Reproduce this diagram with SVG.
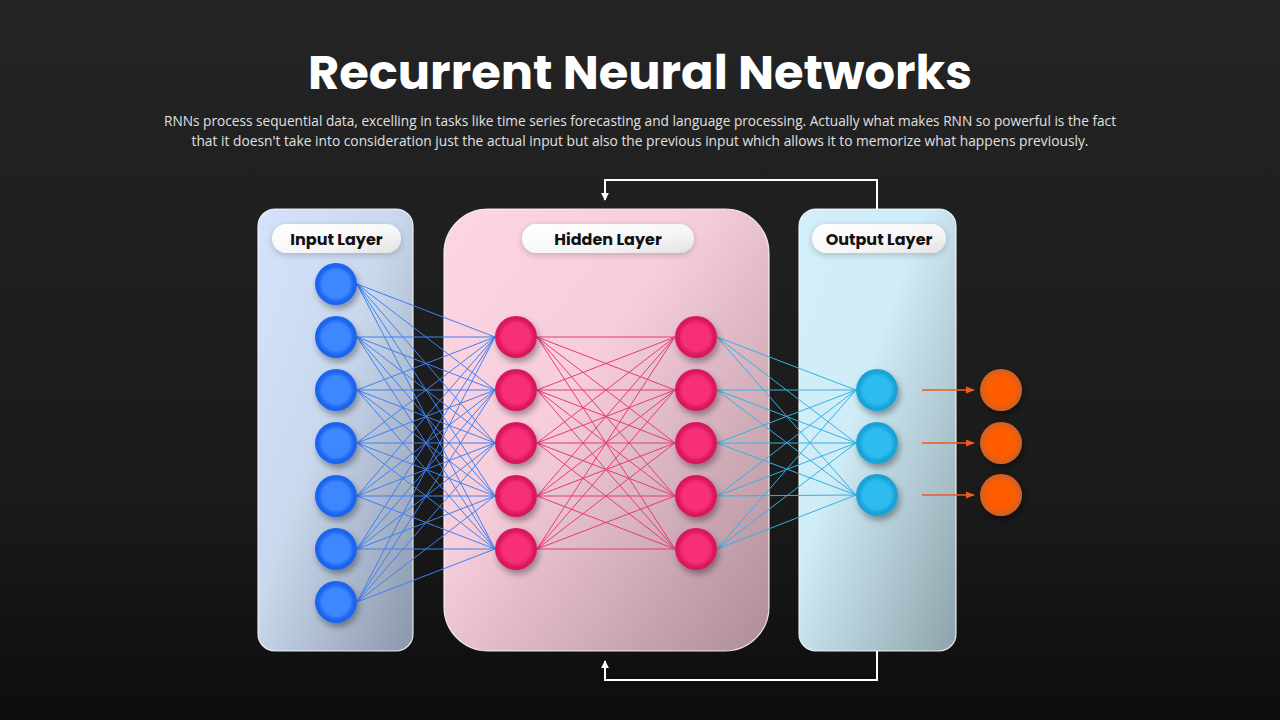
<svg xmlns="http://www.w3.org/2000/svg" width="1280" height="720" viewBox="0 0 1280 720">
<defs>
<linearGradient id="bg" x1="0" y1="0" x2="0" y2="1"><stop offset="0" stop-color="#242424"/><stop offset="0.7" stop-color="#1a1a1a"/><stop offset="1" stop-color="#0d0d0d"/></linearGradient>
<linearGradient id="gIn" x1="0" y1="0" x2="1" y2="1"><stop offset="0" stop-color="#d4e3fc"/><stop offset="0.45" stop-color="#cad8ee"/><stop offset="1" stop-color="#8a96aa"/></linearGradient>
<linearGradient id="gHid" x1="0" y1="0" x2="1" y2="1"><stop offset="0" stop-color="#fdd5e3"/><stop offset="0.4" stop-color="#f6cddb"/><stop offset="1" stop-color="#ad8c98"/></linearGradient>
<linearGradient id="gOut" x1="0" y1="0" x2="1" y2="1"><stop offset="0" stop-color="#d2eef8"/><stop offset="0.4" stop-color="#d0ecf6"/><stop offset="1" stop-color="#8ea3ab"/></linearGradient>
<linearGradient id="pill" x1="0" y1="0" x2="1" y2="1"><stop offset="0" stop-color="#ffffff"/><stop offset="0.6" stop-color="#f6f6f6"/><stop offset="1" stop-color="#e2e2e2"/></linearGradient>
<filter id="sh" x="-50%" y="-50%" width="200%" height="200%"><feDropShadow dx="2" dy="4" stdDeviation="3" flood-color="#000" flood-opacity="0.35"/></filter>
<filter id="psh" x="-20%" y="-50%" width="140%" height="200%"><feDropShadow dx="0" dy="2" stdDeviation="3" flood-color="#000" flood-opacity="0.2"/></filter>
<filter id="soft" x="-20%" y="-20%" width="140%" height="140%"><feGaussianBlur stdDeviation="1.5"/></filter>
<marker id="ah" viewBox="0 0 10 10" refX="9" refY="5" markerWidth="4" markerHeight="4" orient="auto"><path d="M0,0 L10,5 L0,10 z" fill="#ffffff"/></marker>
<marker id="ao" viewBox="0 0 10 10" refX="9" refY="5" markerWidth="6" markerHeight="6" orient="auto"><path d="M0,1 L10,5 L0,9 z" fill="#f05a1a"/></marker>
</defs>
<style>
.panel{stroke:#ffffff;stroke-opacity:0.85;stroke-width:1.2}
.lbl{font-family:"Poppins","Inter","Liberation Sans",sans-serif;font-weight:700;font-size:16px;fill:#111;text-anchor:middle}
.sub{font-family:"Open Sans","Lato","Liberation Sans",sans-serif;font-size:14px;fill:#e0e0e0;text-anchor:middle}
.lb{stroke:#3f80f0;stroke-width:1}
.lp{stroke:#e8387a;stroke-width:1}
.lc{stroke:#2eb4e4;stroke-width:1}
.loop{fill:none;stroke:#ffffff;stroke-width:2}
.oa{stroke:#f05a1a;stroke-width:1.5}
</style>
<rect width="1280" height="720" fill="url(#bg)"/>
<text x="640" y="89" font-family="Poppins, Inter, 'Liberation Sans', sans-serif" font-weight="700" font-size="48" fill="#ffffff" text-anchor="middle" textLength="664" lengthAdjust="spacingAndGlyphs">Recurrent Neural Networks</text>
<text class="sub" x="640" y="126" textLength="952" lengthAdjust="spacingAndGlyphs">RNNs process sequential data, excelling in tasks like time series forecasting and language processing. Actually what makes RNN so powerful is the fact</text>
<text class="sub" x="640" y="146" textLength="897" lengthAdjust="spacingAndGlyphs">that it doesn't take into consideration just the actual input but also the previous input which allows it to memorize what happens previously.</text>

<g id="panel-input"><rect class="panel" x="258" y="209" width="155" height="442" rx="17" fill="url(#gIn)"/><rect x="272" y="224" width="129" height="29" rx="14.5" fill="url(#pill)" filter="url(#psh)"/><text class="lbl" x="336.5" y="244.5">Input Layer</text></g>
<g id="panel-hidden"><rect class="panel" x="444" y="209" width="325" height="442" rx="44" fill="url(#gHid)"/><rect x="522" y="224" width="172" height="29" rx="14.5" fill="url(#pill)" filter="url(#psh)"/><text class="lbl" x="608" y="244.5">Hidden Layer</text></g>
<g id="panel-output"><rect class="panel" x="799" y="209" width="157" height="442" rx="17" fill="url(#gOut)"/><rect x="812" y="224" width="134" height="29" rx="14.5" fill="url(#pill)" filter="url(#psh)"/><text class="lbl" x="879" y="244.5">Output Layer</text></g>

<g id="connectors">
<g class="lb">
<line x1="357" y1="284" x2="495" y2="337"/><line x1="357" y1="284" x2="495" y2="390"/><line x1="357" y1="284" x2="495" y2="443"/><line x1="357" y1="284" x2="495" y2="496"/><line x1="357" y1="284" x2="495" y2="549"/>
<line x1="357" y1="337" x2="495" y2="337"/><line x1="357" y1="337" x2="495" y2="390"/><line x1="357" y1="337" x2="495" y2="443"/><line x1="357" y1="337" x2="495" y2="496"/><line x1="357" y1="337" x2="495" y2="549"/>
<line x1="357" y1="390" x2="495" y2="337"/><line x1="357" y1="390" x2="495" y2="390"/><line x1="357" y1="390" x2="495" y2="443"/><line x1="357" y1="390" x2="495" y2="496"/><line x1="357" y1="390" x2="495" y2="549"/>
<line x1="357" y1="443" x2="495" y2="337"/><line x1="357" y1="443" x2="495" y2="390"/><line x1="357" y1="443" x2="495" y2="443"/><line x1="357" y1="443" x2="495" y2="496"/><line x1="357" y1="443" x2="495" y2="549"/>
<line x1="357" y1="496" x2="495" y2="337"/><line x1="357" y1="496" x2="495" y2="390"/><line x1="357" y1="496" x2="495" y2="443"/><line x1="357" y1="496" x2="495" y2="496"/><line x1="357" y1="496" x2="495" y2="549"/>
<line x1="357" y1="549" x2="495" y2="337"/><line x1="357" y1="549" x2="495" y2="390"/><line x1="357" y1="549" x2="495" y2="443"/><line x1="357" y1="549" x2="495" y2="496"/><line x1="357" y1="549" x2="495" y2="549"/>
<line x1="357" y1="602" x2="495" y2="337"/><line x1="357" y1="602" x2="495" y2="390"/><line x1="357" y1="602" x2="495" y2="443"/><line x1="357" y1="602" x2="495" y2="496"/><line x1="357" y1="602" x2="495" y2="549"/>
</g>
<g class="lp">
<line x1="537" y1="337" x2="675" y2="337"/><line x1="537" y1="337" x2="675" y2="390"/><line x1="537" y1="337" x2="675" y2="443"/><line x1="537" y1="337" x2="675" y2="496"/><line x1="537" y1="337" x2="675" y2="549"/>
<line x1="537" y1="390" x2="675" y2="337"/><line x1="537" y1="390" x2="675" y2="390"/><line x1="537" y1="390" x2="675" y2="443"/><line x1="537" y1="390" x2="675" y2="496"/><line x1="537" y1="390" x2="675" y2="549"/>
<line x1="537" y1="443" x2="675" y2="337"/><line x1="537" y1="443" x2="675" y2="390"/><line x1="537" y1="443" x2="675" y2="443"/><line x1="537" y1="443" x2="675" y2="496"/><line x1="537" y1="443" x2="675" y2="549"/>
<line x1="537" y1="496" x2="675" y2="337"/><line x1="537" y1="496" x2="675" y2="390"/><line x1="537" y1="496" x2="675" y2="443"/><line x1="537" y1="496" x2="675" y2="496"/><line x1="537" y1="496" x2="675" y2="549"/>
<line x1="537" y1="549" x2="675" y2="337"/><line x1="537" y1="549" x2="675" y2="390"/><line x1="537" y1="549" x2="675" y2="443"/><line x1="537" y1="549" x2="675" y2="496"/><line x1="537" y1="549" x2="675" y2="549"/>
</g>
<g class="lc">
<line x1="717" y1="337" x2="856" y2="390"/><line x1="717" y1="337" x2="856" y2="443"/><line x1="717" y1="337" x2="856" y2="495"/>
<line x1="717" y1="390" x2="856" y2="390"/><line x1="717" y1="390" x2="856" y2="443"/><line x1="717" y1="390" x2="856" y2="495"/>
<line x1="717" y1="443" x2="856" y2="390"/><line x1="717" y1="443" x2="856" y2="443"/><line x1="717" y1="443" x2="856" y2="495"/>
<line x1="717" y1="496" x2="856" y2="390"/><line x1="717" y1="496" x2="856" y2="443"/><line x1="717" y1="496" x2="856" y2="495"/>
<line x1="717" y1="549" x2="856" y2="390"/><line x1="717" y1="549" x2="856" y2="443"/><line x1="717" y1="549" x2="856" y2="495"/>
</g>
<g class="oa">
<line x1="922" y1="390" x2="974" y2="390" marker-end="url(#ao)"/>
<line x1="922" y1="443" x2="974" y2="443" marker-end="url(#ao)"/>
<line x1="922" y1="495" x2="974" y2="495" marker-end="url(#ao)"/>
</g>
<path class="loop" d="M877,209 V180 H605 V200" marker-end="url(#ah)"/>
<path class="loop" d="M877,651 V680 H605 V661" marker-end="url(#ah)"/>
</g>

<g id="input-nodes" filter="url(#sh)">
<g id="in1"><circle cx="336" cy="284" r="21" fill="#1c63ee"/><circle cx="336" cy="284" r="16" fill="#3d87ff" filter="url(#soft)"/></g>
<g id="in2"><circle cx="336" cy="337" r="21" fill="#1c63ee"/><circle cx="336" cy="337" r="16" fill="#3d87ff" filter="url(#soft)"/></g>
<g id="in3"><circle cx="336" cy="390" r="21" fill="#1c63ee"/><circle cx="336" cy="390" r="16" fill="#3d87ff" filter="url(#soft)"/></g>
<g id="in4"><circle cx="336" cy="443" r="21" fill="#1c63ee"/><circle cx="336" cy="443" r="16" fill="#3d87ff" filter="url(#soft)"/></g>
<g id="in5"><circle cx="336" cy="496" r="21" fill="#1c63ee"/><circle cx="336" cy="496" r="16" fill="#3d87ff" filter="url(#soft)"/></g>
<g id="in6"><circle cx="336" cy="549" r="21" fill="#1c63ee"/><circle cx="336" cy="549" r="16" fill="#3d87ff" filter="url(#soft)"/></g>
<g id="in7"><circle cx="336" cy="602" r="21" fill="#1c63ee"/><circle cx="336" cy="602" r="16" fill="#3d87ff" filter="url(#soft)"/></g>
</g>
<g id="hidden-nodes" filter="url(#sh)">
<g id="h1a"><circle cx="516" cy="337" r="21" fill="#d8195e"/><circle cx="516" cy="337" r="16" fill="#f72d78" filter="url(#soft)"/></g>
<g id="h1b"><circle cx="516" cy="390" r="21" fill="#d8195e"/><circle cx="516" cy="390" r="16" fill="#f72d78" filter="url(#soft)"/></g>
<g id="h1c"><circle cx="516" cy="443" r="21" fill="#d8195e"/><circle cx="516" cy="443" r="16" fill="#f72d78" filter="url(#soft)"/></g>
<g id="h1d"><circle cx="516" cy="496" r="21" fill="#d8195e"/><circle cx="516" cy="496" r="16" fill="#f72d78" filter="url(#soft)"/></g>
<g id="h1e"><circle cx="516" cy="549" r="21" fill="#d8195e"/><circle cx="516" cy="549" r="16" fill="#f72d78" filter="url(#soft)"/></g>
<g id="h2a"><circle cx="696" cy="337" r="21" fill="#d8195e"/><circle cx="696" cy="337" r="16" fill="#f72d78" filter="url(#soft)"/></g>
<g id="h2b"><circle cx="696" cy="390" r="21" fill="#d8195e"/><circle cx="696" cy="390" r="16" fill="#f72d78" filter="url(#soft)"/></g>
<g id="h2c"><circle cx="696" cy="443" r="21" fill="#d8195e"/><circle cx="696" cy="443" r="16" fill="#f72d78" filter="url(#soft)"/></g>
<g id="h2d"><circle cx="696" cy="496" r="21" fill="#d8195e"/><circle cx="696" cy="496" r="16" fill="#f72d78" filter="url(#soft)"/></g>
<g id="h2e"><circle cx="696" cy="549" r="21" fill="#d8195e"/><circle cx="696" cy="549" r="16" fill="#f72d78" filter="url(#soft)"/></g>
</g>
<g id="output-nodes" filter="url(#sh)">
<g id="o1"><circle cx="877" cy="390" r="21" fill="#1aa2d6"/><circle cx="877" cy="390" r="16" fill="#2ebcef" filter="url(#soft)"/></g>
<g id="o2"><circle cx="877" cy="443" r="21" fill="#1aa2d6"/><circle cx="877" cy="443" r="16" fill="#2ebcef" filter="url(#soft)"/></g>
<g id="o3"><circle cx="877" cy="495" r="21" fill="#1aa2d6"/><circle cx="877" cy="495" r="16" fill="#2ebcef" filter="url(#soft)"/></g>
</g>
<g id="result-nodes" filter="url(#sh)">
<g id="r1"><circle cx="1001" cy="390" r="21" fill="#d9611f"/><circle cx="1001" cy="390" r="16" fill="#ff5c00" filter="url(#soft)"/></g>
<g id="r2"><circle cx="1001" cy="443" r="21" fill="#d9611f"/><circle cx="1001" cy="443" r="16" fill="#ff5c00" filter="url(#soft)"/></g>
<g id="r3"><circle cx="1001" cy="495" r="21" fill="#d9611f"/><circle cx="1001" cy="495" r="16" fill="#ff5c00" filter="url(#soft)"/></g>
</g>
</svg>
